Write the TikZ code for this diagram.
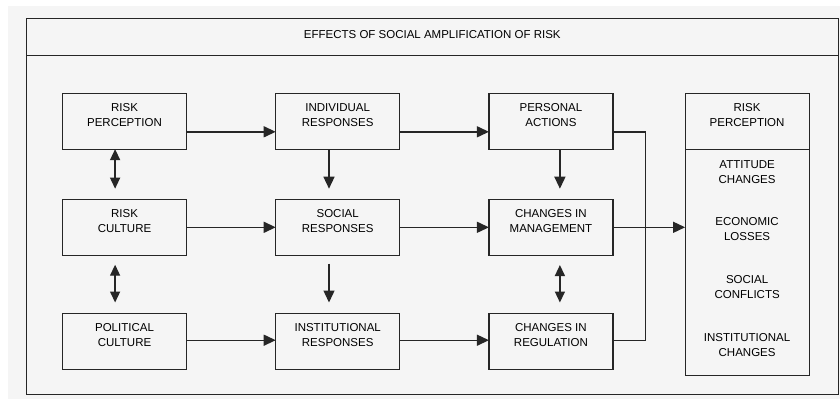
\documentclass[tikz,border=0pt]{standalone}
\usepackage{fontspec}
\setmainfont{Liberation Sans}
\usetikzlibrary{arrows.meta}

\definecolor{paper}{RGB}{245,245,245}
\definecolor{ink}{RGB}{38,38,38}

\begin{document}
\begin{tikzpicture} [
    x=1bp, y=-1bp,
    every node/.style = { font=\fontsize{11.5bp}{15bp}\selectfont },
    frame/.style   = { rectangle, draw=ink, line width=1bp, outer sep=0pt,
                       minimum width=812.5bp },
    panel/.style   = { rectangle, draw=ink, line width=1.2bp, outer sep=0pt,
                       minimum width=124bp },
    box/.style     = { panel, minimum height=56bp,
                       label={[boxtext]center:{#1}} },
    boxtext/.style = { align=center, inner sep=0pt, yshift=6bp },
    txt/.style     = { align=center, inner sep=0pt },
    line/.style    = { draw=ink, line width=1.4bp },
    flow/.style    = { line, -{Triangle[length=12bp, width=11bp]} },
    twoway/.style  = { line, {Triangle[length=11bp, width=10bp]}-{Triangle[length=11bp, width=10bp]} },
  ]

  \useasboundingbox (0,0) rectangle (840,399);
  \fill[paper] (8,6) rectangle (840,399);

  % frame and title
  \node[frame, minimum height=376bp, anchor=north west] (outer) at (26,18) {};
  \node[frame, minimum height=37bp, anchor=north, text depth=5bp] (title) at (outer.north)
    {EFFECTS OF SOCIAL AMPLIFICATION OF RISK};

  % Define nodes in matrix
  \matrix [column sep=88bp, row sep=49bp, inner sep=0pt, anchor=north west] (grid) at (61.7,92.3) {
\node[box={RISK\\PERCEPTION}](rp){}; & \node[box={INDIVIDUAL\\RESPONSES}](ir){}; & \node[box={PERSONAL\\ACTIONS}](pa){}; &[-17bp] \node[box={RISK\\PERCEPTION}](head){}; \\
\node[box={RISK\\CULTURE}](rc){}; & \node[box={SOCIAL\\RESPONSES}](sr){}; & \node[box={CHANGES IN\\MANAGEMENT}](cm){}; & \\[8bp]
\node[box={POLITICAL\\CULTURE}](pc){}; & \node[box={INSTITUTIONAL\\RESPONSES}](inr){}; & \node[box={CHANGES IN\\REGULATION}](creg){}; & \\
  };

  % effects column
  \node[panel, minimum height=226bp, anchor=north] (body) at (head.south) {};
  \node[txt] (att)  at ([yshift=-23bp]body.north)    {ATTITUDE\\CHANGES};
  \node[txt] (eco)  at ([yshift=-80bp]body.north)    {ECONOMIC\\LOSSES};
  \node[txt] (soc)  at ([yshift=-137.7bp]body.north) {SOCIAL\\CONFLICTS};
  \node[txt] (inst) at ([yshift=-196.4bp]body.north) {INSTITUTIONAL\\CHANGES};

  % connect the nodes
		\path [flow] ([yshift=-10.7bp]rp.east) -- ([yshift=-10.7bp]ir.west);
		\path [flow] ([yshift=-10.7bp]ir.east) -- ([yshift=-10.7bp]pa.west);
		\path [flow] (rc) -- (sr);
		\path [flow] (sr) -- (cm);
		\path [flow] ([yshift=1.3bp]pc.east) -- ([yshift=1.3bp]inr.west);
		\path [flow] ([yshift=1.3bp]inr.east) -- ([yshift=1.3bp]creg.west);
		\path [twoway, shorten >=10.6bp] ([xshift=-9.4bp]rp.south) -- ([xshift=-9.4bp]rc.north);
		\path [twoway, shorten <=9.4bp, shorten >=11bp] ([xshift=-9.4bp]rc.south) -- ([xshift=-9.4bp]pc.north);
		\path [flow, shorten >=10.6bp] ([xshift=-8.7bp]ir.south) -- ([xshift=-8.7bp]sr.north);
		\path [flow, shorten <=8.4bp, shorten >=11bp] ([xshift=-8.7bp]sr.south) -- ([xshift=-8.7bp]inr.north);
		\path [flow, shorten >=10.6bp] ([xshift=9bp]pa.south) -- ([xshift=9bp]cm.north);
		\path [twoway, shorten <=9.7bp, shorten >=11bp] ([xshift=9bp]cm.south) -- ([xshift=9bp]creg.north);
		\coordinate (bus) at (645.7,224.3);
		\path [line] ([yshift=-10.7bp]pa.east) -| (bus) |- ([yshift=1.3bp]creg.east);
		\path [flow] (cm.east) -- (cm.east -| body.west);
\end{tikzpicture}
\end{document}
